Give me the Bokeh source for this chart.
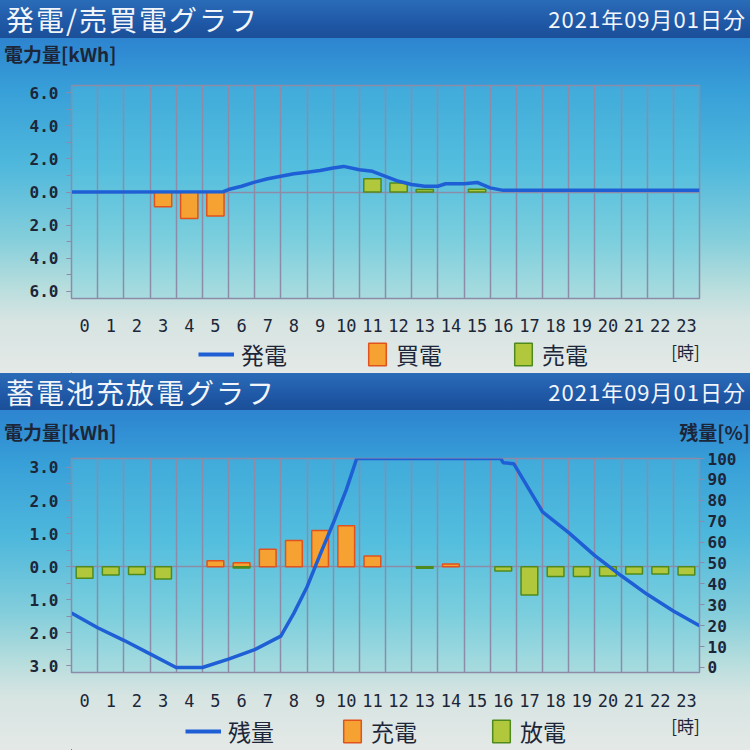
from bokeh.plotting import figure
from bokeh.models import (Range1d, LinearAxis, FixedTicker, Legend, LegendItem, Label,
                          Div, CustomJSTickFormatter, ColumnDataSource)
from bokeh.layouts import column
from bokeh.embed import file_html
from bokeh.resources import INLINE

# ---------------- data ----------------
hours = list(range(24))
hour_labels = [str(h) for h in hours]
hour_unit = "[時]"

# 発電/売買電グラフ
gen_time = [0, 5.8, 6, 6.5, 7, 7.5, 8, 8.5, 9, 9.5, 10, 10.4, 11, 11.5, 12, 12.5,
            13, 13.5, 14, 14.3, 15, 15.5, 16, 16.5, 24]
gen_kwh = [0, 0.02, 0.15, 0.35, 0.6, 0.8, 0.95, 1.1, 1.2, 1.3, 1.45, 1.55, 1.35, 1.25,
           0.95, 0.65, 0.45, 0.35, 0.35, 0.5, 0.5, 0.58, 0.25, 0.1, 0.1]
buy_kwh = [0, 0, 0, 0.9, 1.6, 1.45, 0, 0, 0, 0, 0, 0,
           0, 0, 0, 0, 0, 0, 0, 0, 0, 0, 0, 0]
sell_kwh = [0, 0, 0, 0, 0, 0, 0, 0, 0, 0, 0, 0.8,
            0.55, 0.15, 0, 0.17, 0, 0, 0, 0, 0, 0, 0, 0]

# 蓄電池充放電グラフ
charge_kwh = [0, 0, 0, 0, 0, 0.18, 0.12, 0.53, 0.79, 1.09, 1.24, 0.32,
              0, 0, 0.08, 0, 0, 0, 0, 0, 0, 0, 0, 0]
discharge_kwh = [0.35, 0.25, 0.24, 0.37, 0, 0, 0.04, 0, 0, 0, 0, 0,
                 0, 0.05, 0, 0, 0.13, 0.86, 0.30, 0.30, 0.28, 0.22, 0.22, 0.25]
soc_time = [0, 1, 2, 3, 4, 5, 6, 7, 8, 8.5, 9, 9.5, 10, 10.5, 10.9, 16.4, 16.5, 16.9,
            18, 19, 20, 21, 22, 23, 24]
soc_pct = [26, 19, 13, 6.5, 0, 0, 4, 8.5, 15, 26, 38.5, 54, 69, 85, 100, 100, 98, 97.5,
           74.5, 64.5, 53.5, 44, 35, 27, 20]

# ---------------- style ----------------
GRID = "#8c8ca8"
TXT = "#1c2638"
LINE_BLUE = "#1f5fd6"
ORANGE = "#f5a232"
ORANGE_EDGE = "#e0521e"
GREEN = "#b2c83c"
GREEN_EDGE = "#4f8a1e"
JP = "Noto Sans CJK JP"
MONO = "DejaVu Sans Mono"

SECTION_BG = ("linear-gradient(to bottom, #2d84d0 0%, #38a0d8 16%, #4fb8dc 38%, "
              "#84cedb 60%, #b6dddd 74%, #d6e4e2 84%, #e4e9e7 100%)")


def bg_slice(total_h, offset):
    return {"background-image": SECTION_BG, "background-size": f"750px {total_h}px",
            "background-position": f"0px -{offset}px", "background-repeat": "no-repeat"}


def title_bar(title, date, h):
    html = (f'<div style="display:flex;justify-content:space-between;align-items:center;'
            f'width:750px;height:{h}px;padding:0 4px 0 6px;box-sizing:border-box;'
            f'background:linear-gradient(to bottom,#2a6cb8 0%,#1f58a6 60%,#1b4f98 100%);'
            f'color:#f2f5fa;font-family:\'{JP}\';">'
            f'<span style="font-size:28px;letter-spacing:2px;">{title}</span>'
            f'<span style="font-size:22px;letter-spacing:1px;">{date}</span></div>')
    return Div(text=html, width=750, height=h, margin=(0, 0, 0, 0))


def header(left, right, h, pad_top, total_h):
    html = (f'<div style="display:flex;justify-content:space-between;align-items:center;'
            f'width:750px;height:{h}px;padding:{pad_top}px 0 0 4px;box-sizing:border-box;'
            f'color:{TXT};font-family:\'{JP}\';font-size:19px;font-weight:bold;">'
            f'<span>{left}</span><span>{right}</span></div>')
    return Div(text=html, width=750, height=h, margin=(0, 0, 0, 0),
               styles=bg_slice(total_h, 0))


def base_fig(h, ml, mr, mt, mb, yr, total_h, offset, standoff):
    p = figure(width=750, height=h, x_range=Range1d(0, 24), y_range=yr,
               output_backend="svg", toolbar_location=None, title=None,
               min_border_left=ml, min_border_right=mr, min_border_top=mt,
               min_border_bottom=mb, margin=(0, 0, 0, 0), styles=bg_slice(total_h, offset))
    p.border_fill_alpha = 0
    p.background_fill_color = "#5fd0e4"
    p.background_fill_alpha = 0.25
    p.outline_line_color = GRID
    p.outline_line_width = 1.5
    # x axis: hour labels centered in hour bands
    p.xaxis.ticker = FixedTicker(ticks=[h + 0.5 for h in hours], minor_ticks=[])
    p.xaxis.formatter = CustomJSTickFormatter(
        args=dict(labels=hour_labels), code="return labels[Math.round(tick - 0.5)];")
    p.xaxis.major_tick_line_color = None
    p.xaxis.major_tick_out = 0
    p.xaxis.major_tick_in = 0
    p.xaxis.minor_tick_out = 0
    p.xaxis.axis_line_color = GRID
    p.xaxis.major_label_standoff = standoff
    p.xaxis.major_label_text_font = MONO
    p.xaxis.major_label_text_font_size = "17px"
    p.xaxis.major_label_text_color = TXT
    p.xgrid.ticker = FixedTicker(ticks=list(range(25)))
    p.xgrid.grid_line_color = GRID
    p.xgrid.grid_line_width = 1.5
    p.ygrid.ticker = FixedTicker(ticks=[0])
    p.ygrid.grid_line_color = GRID
    p.ygrid.grid_line_width = 1.5
    # left axis
    p.yaxis.formatter = CustomJSTickFormatter(code="return Math.abs(tick).toFixed(1);")
    p.yaxis.major_label_text_font = MONO
    p.yaxis.major_label_text_font_size = "16px"
    p.yaxis.major_label_text_font_style = "bold"
    p.yaxis.major_label_text_color = TXT
    p.yaxis.axis_line_color = GRID
    p.yaxis.major_tick_line_color = GRID
    p.yaxis.minor_tick_line_color = GRID
    p.yaxis.major_tick_in = 0
    p.yaxis.major_tick_out = 5
    p.yaxis.minor_tick_in = 0
    p.yaxis.minor_tick_out = 5
    p.yaxis.major_label_standoff = 8
    return p


def legend_fig(h, total_h, offset, line_data, orange_src, green_src, line_lbl, bar_lbls,
               x_line, x_bar, pitch, vy, unit_x, unit_y):
    # legend strip below a chart; its swatch renderers reuse the chart's data but the
    # strip's ranges keep them out of view, so only the legend glyphs appear
    lf = figure(width=750, height=h, x_range=Range1d(100, 101), y_range=Range1d(100, 101),
                output_backend="svg", toolbar_location=None, title=None,
                x_axis_location=None, y_axis_location=None, min_border=0,
                margin=(0, 0, 0, 0), styles=bg_slice(total_h, offset))
    lf.grid.visible = False
    lf.outline_line_color = None
    lf.border_fill_alpha = 0
    lf.background_fill_alpha = 0
    sw_line = lf.line(line_data[0], line_data[1], line_color=LINE_BLUE, line_width=4)
    sw_orange = lf.vbar(x="x", top="y", bottom=0, width=0.66, source=orange_src,
                        fill_color=ORANGE, line_color=ORANGE_EDGE, line_width=1.5)
    sw_green = lf.vbar(x="x", top="y", bottom=0, width=0.66, source=green_src,
                       fill_color=GREEN, line_color=GREEN_EDGE, line_width=1.5)
    common = dict(orientation="horizontal", background_fill_alpha=0, border_line_alpha=0,
                  padding=0, margin=0, spacing=0, label_text_font=JP,
                  label_text_font_size="23px", label_text_color=TXT,
                  label_text_line_height=1.0)
    lg1 = Legend(items=[LegendItem(label=line_lbl, renderers=[sw_line])],
                 location=(x_line, vy), glyph_width=36, glyph_height=26,
                 label_standoff=7, **common)
    lg2 = Legend(items=[LegendItem(label=bar_lbls[0], renderers=[sw_orange]),
                        LegendItem(label=bar_lbls[1], renderers=[sw_green])],
                 location=(x_bar, vy), glyph_width=22, glyph_height=28,
                 label_standoff=8, label_width=pitch - 30, **common)
    lf.add_layout(lg1)
    lf.add_layout(lg2)
    lf.add_layout(Label(x=unit_x, y=unit_y, x_units="screen", y_units="screen",
                        text=hour_unit, text_font=JP, text_font_size="17px",
                        text_color=TXT, text_align="center", text_baseline="middle"))
    return lf


def nz(vals, sign=1):
    xs = [h + 0.5 for h, v in zip(hours, vals) if v != 0]
    ys = [sign * v for v in vals if v != 0]
    return ColumnDataSource(dict(x=xs, y=ys))


# ---------------- top chart ----------------
SEC1 = 335
L1 = 71  # frame left of the top chart
bar1 = title_bar("発電/売買電グラフ", "2021年09月01日分", 38)
head1 = header("電力量[kWh]", "", 32, 0, SEC1)

p1 = base_fig(268, L1, 48, 15, 40, Range1d(-6.45, 6.45), SEC1, 32, 20)
p1.yaxis.ticker = FixedTicker(ticks=[-6, -4, -2, 0, 2, 4, 6],
                              minor_ticks=list(range(-6, 7)))
src_buy = nz(buy_kwh, -1)
src_sell = nz(sell_kwh)
p1.vbar(x="x", top="y", bottom=0, width=0.66, source=src_buy,
        fill_color=ORANGE, line_color=ORANGE_EDGE, line_width=1.5)
p1.vbar(x="x", top="y", bottom=0, width=0.66, source=src_sell,
        fill_color=GREEN, line_color=GREEN_EDGE, line_width=1.5)
p1.line(gen_time, gen_kwh, line_color=LINE_BLUE, line_width=3.5)

leg1 = legend_fig(35, SEC1, 300, (gen_time, gen_kwh), src_buy, src_sell, "発電",
                  ["買電", "売電"], 198 - L1, 366 - L1, 146, 2, 685 - L1, 22)

# ---------------- bottom chart ----------------
SEC2 = 340
L2 = 69  # frame left of the bottom chart
bar2 = title_bar("蓄電池充放電グラフ", "2021年09月01日分", 37)
head2 = header("電力量[kWh]", "残量[%]", 40, 4, SEC2)

p2 = base_fig(263, L2, 51, 8, 41, Range1d(-3.2, 3.27), SEC2, 40, 21)
p2.yaxis.ticker = FixedTicker(ticks=[-3, -2, -1, 0, 1, 2, 3],
                              minor_ticks=[x / 2 for x in range(-6, 7)])
p2.extra_y_ranges = {"pct": Range1d(-2.4, 100)}
ax_r = LinearAxis(y_range_name="pct", ticker=FixedTicker(ticks=list(range(0, 101, 10))),
                  major_label_text_font=MONO, major_label_text_font_size="16px",
                  major_label_text_font_style="bold", major_label_text_color=TXT,
                  axis_line_color=GRID, major_tick_line_color=GRID, major_tick_in=0,
                  major_tick_out=5, minor_tick_line_color=None, major_label_standoff=3)
p2.add_layout(ax_r, "right")
src_chg = nz(charge_kwh)
src_dis = nz(discharge_kwh, -1)
p2.vbar(x="x", top="y", bottom=0, width=0.64, source=src_chg,
        fill_color=ORANGE, line_color=ORANGE_EDGE, line_width=1.5)
p2.vbar(x="x", top="y", bottom=0, width=0.64, source=src_dis,
        fill_color=GREEN, line_color=GREEN_EDGE, line_width=1.5)
p2.line(soc_time, soc_pct, y_range_name="pct", line_color=LINE_BLUE, line_width=3.5)

leg2 = legend_fig(37, SEC2, 303, (soc_time, soc_pct), src_chg, src_dis, "残量",
                  ["充電", "放電"], 183 - L2, 339 - L2, 149, 2, 683 - L2, 25)

layout = column(bar1, head1, p1, leg1, bar2, head2, p2, leg2, spacing=0, margin=(0, 0, 0, 0))
open("out.html", "w").write(file_html(layout, INLINE))
